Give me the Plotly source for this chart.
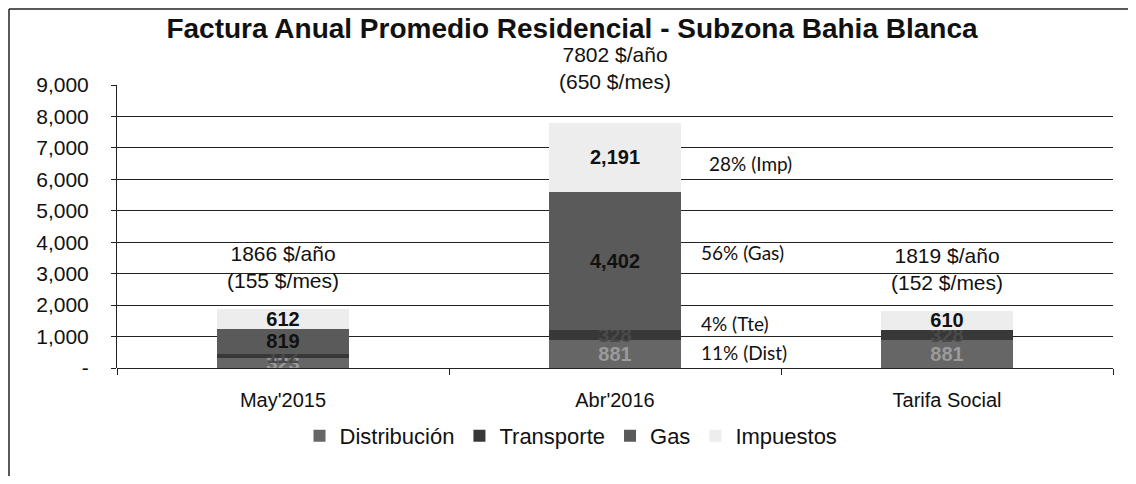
import plotly.graph_objects as go

# categorias y componentes de la factura anual ($/año)
categorias = ["May'2015", "Abr'2016", "Tarifa Social"]
distribucion = [323, 881, 881]
transporte = [112, 328, 328]
gas = [819, 4402, 0]
impuestos = [612, 2191, 610]

total_anual = [1866, 7802, 1819]
total_mensual = [155, 650, 152]

yticks = [0, 1000, 2000, 3000, 4000, 5000, 6000, 7000, 8000, 9000]
yticklabels = ["-", "1,000", "2,000", "3,000", "4,000", "5,000", "6,000", "7,000", "8,000", "9,000"]

# la pagina deja 8px de margen en el body
W, H = 1120, 468
ML, MR, MT, MB = 109, 15, 77, 108
PW, PH = W - ML - MR, H - MT - MB


def etiquetas(vals):
    return [f"{v:,}" if v else "" for v in vals]


series = [
    ("Distribución", distribucion, "#666666", "#9a9a9a"),
    ("Transporte", transporte, "#383838", "#4a4a4a"),
    ("Gas", gas, "#5a5a5a", "#111111"),
    ("Impuestos", impuestos, "#ededed", "#111111"),
]

fig = go.Figure()
for nombre, vals, color, tcolor in series:
    fig.add_trace(go.Bar(
        name=nombre, x=categorias, y=vals,
        marker=dict(color=color, line=dict(width=0)),
        text=etiquetas(vals), textposition="inside", insidetextanchor="middle",
        constraintext="none",
        textfont=dict(family="Liberation Sans", size=20, color=tcolor, weight="bold"),
    ))

# totales sobre cada barra
desplaz = [15, 28, 15]
for cat, ta, tm, dy in zip(categorias, total_anual, total_mensual, desplaz):
    fig.add_annotation(
        x=cat, y=ta, xref="x", yref="y", yanchor="bottom", yshift=dy,
        text=f"{ta} $/año<br>({tm} $/mes)", showarrow=False,
        font=dict(family="Liberation Sans", size=21, color="#111111"),
    )

# porcentajes de Abr'2016
i = 1
partes = [("Dist", distribucion[i]), ("Tte", transporte[i]), ("Gas", gas[i]), ("Imp", impuestos[i])]
base = 0
ajuste = {"Dist": (84, 2), "Tte": (84, 12), "Gas": (84, 8), "Imp": (92, -6)}
for nom, v in partes:
    pct = round(100 * v / total_anual[i])
    dx, dy = ajuste[nom]
    fig.add_annotation(
        x=categorias[i], y=base + v / 2, xref="x", yref="y",
        xanchor="left", xshift=dx, yshift=dy,
        text=f"{pct}% ({nom})", showarrow=False,
        font=dict(family="Lato", size=19, color="#111111"),
    )
    base += v

# marco del grafico (solo izquierda y arriba quedan en la imagen)
xl = (1 - ML) / PW
yt = 1 + (MT - 1) / PH
fig.add_shape(type="line", xref="paper", yref="paper", x0=xl, x1=xl, y0=-(MB + 10) / PH, y1=yt,
              line=dict(color="#222222", width=1.5))
fig.add_shape(type="line", xref="paper", yref="paper", x0=xl, x1=(W + 10 - ML) / PW, y0=yt, y1=yt,
              line=dict(color="#222222", width=1.5))

fig.update_layout(
    width=W, height=H,
    margin=dict(l=ML, r=MR, t=MT, b=MB),
    paper_bgcolor="white", plot_bgcolor="white",
    barmode="stack", bargap=0.6,
    title=dict(text="<b>Factura Anual Promedio Residencial - Subzona Bahia Blanca</b>",
               x=564 / W, xref="container", xanchor="center", y=1 - 20 / H, yanchor="middle",
               font=dict(family="Liberation Sans", size=28, color="#111111")),
    font=dict(family="Liberation Sans", color="#111111"),
    legend=dict(orientation="h", x=(563 - ML) / PW, xanchor="center",
                y=-(428 - (H - MB)) / PH, yanchor="middle",
                font=dict(size=22), itemwidth=30, traceorder="normal"),
    xaxis=dict(showgrid=False, showline=False, ticks="outside", tickson="boundaries",
               ticklen=6, tickcolor="#222222", ticklabelstandoff=18,
               tickfont=dict(size=20)),
    yaxis=dict(range=[0, 9000], tickvals=yticks, ticktext=yticklabels,
               showgrid=True, gridcolor="#222222", gridwidth=1,
               showline=True, linecolor="#222222", linewidth=1,
               ticks="outside", ticklen=5, tickcolor="#222222",
               ticklabelstandoff=18, tickfont=dict(size=21),
               zeroline=True, zerolinecolor="#222222", zerolinewidth=1),
)

fig.write_html("out.html")
